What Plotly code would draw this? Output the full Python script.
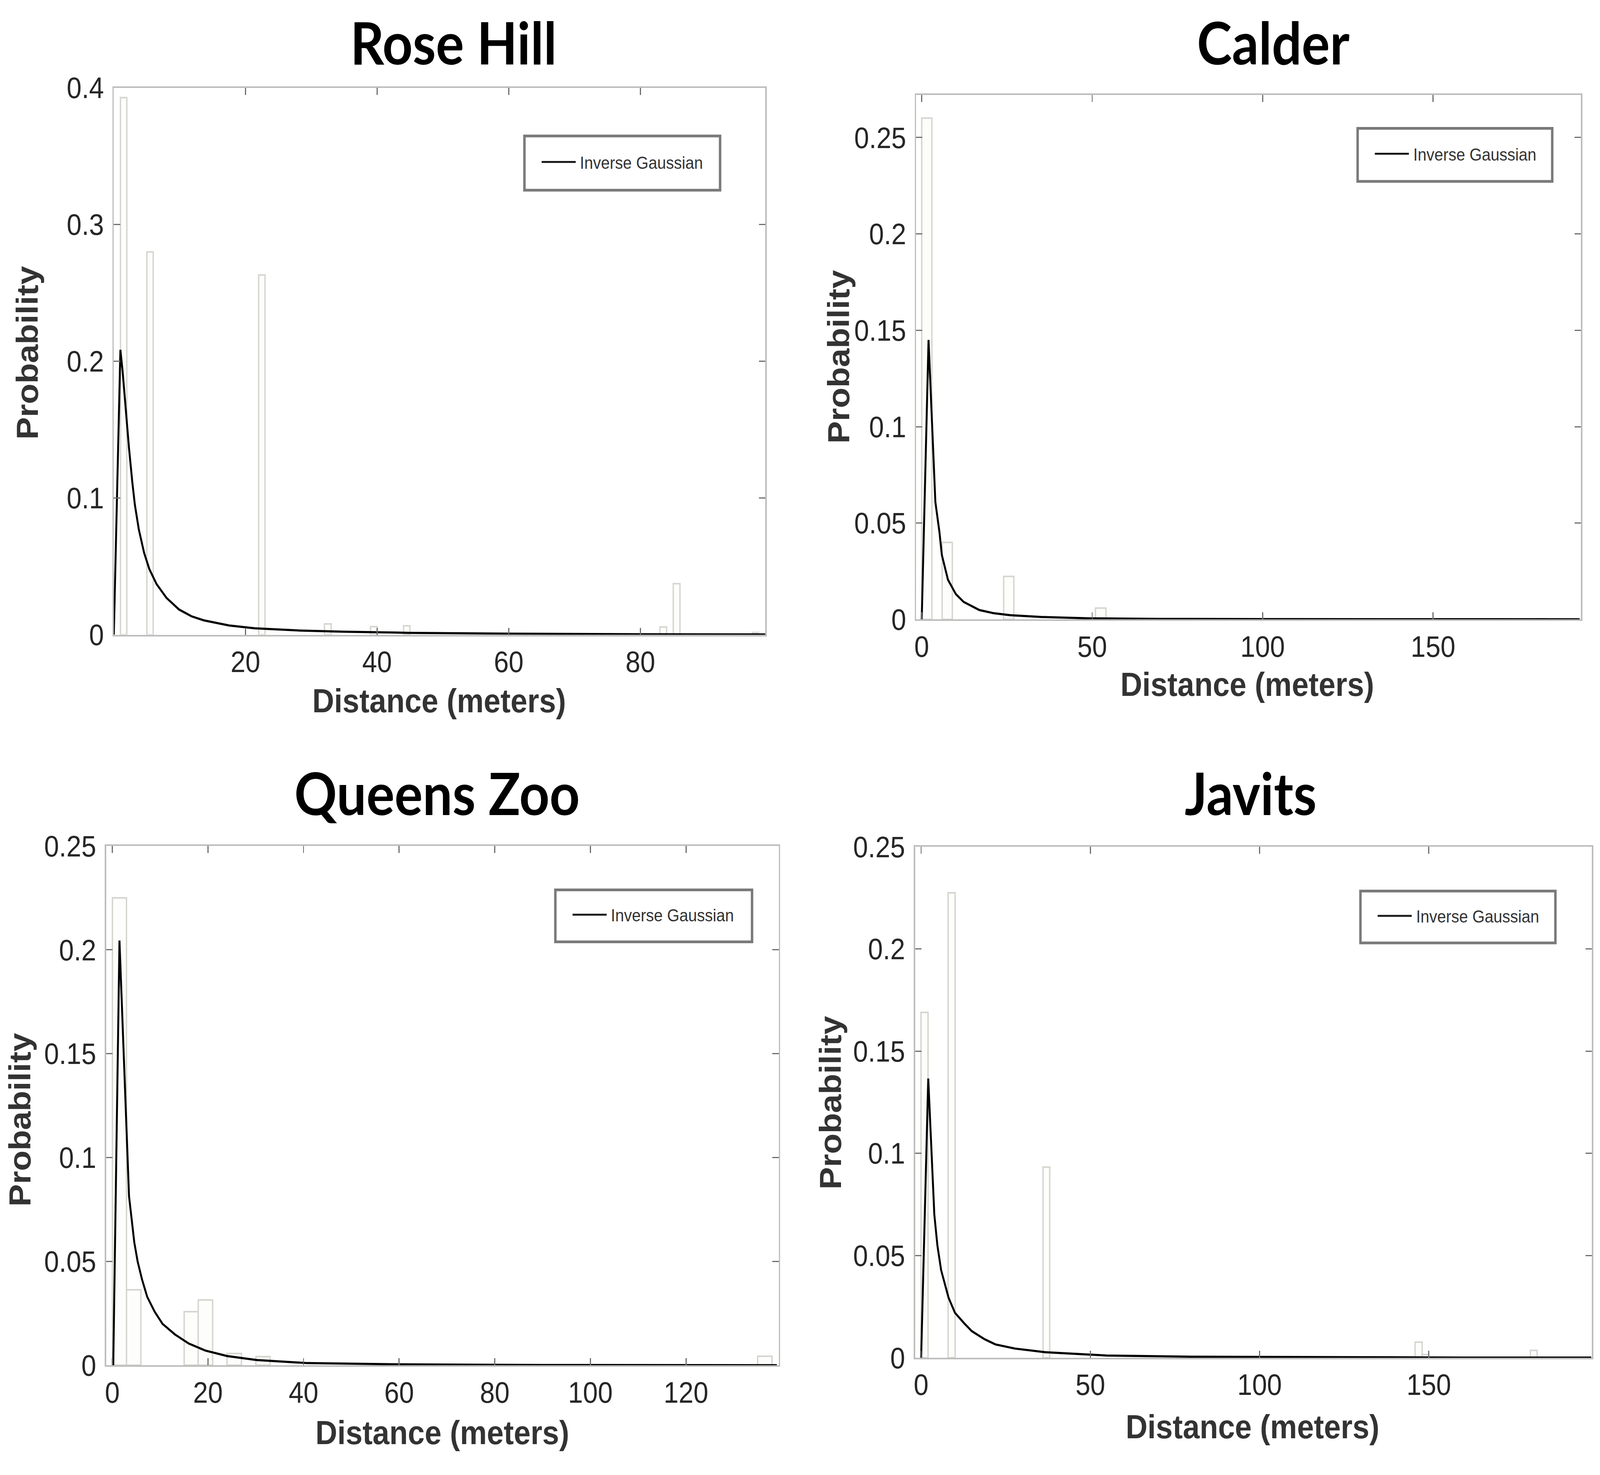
import plotly.graph_objs as go
from plotly.subplots import make_subplots

W, H = 4550, 3775

# ---- data ----
rose_bin_left = [1, 5, 22, 32, 39, 44, 83, 85, 97]
rose_bin_prob = [0.393, 0.280, 0.263, 0.0079, 0.0058, 0.0064, 0.0056, 0.0374, 0.0017]
rose_bin_width = 1
rose_fit_x = [0, 1.0, 1.33, 1.8, 2.3, 2.8, 3.2, 3.8, 4.6, 5.4, 6.5, 8, 9.9, 11.8, 13.7,
              17.5, 21.4, 28.2, 35, 45, 60, 80, 99]
rose_fit_y = [0, 0.2084, 0.193, 0.165, 0.137, 0.112, 0.095, 0.077, 0.060, 0.048, 0.037,
              0.027, 0.0185, 0.0135, 0.0105, 0.0068, 0.0047, 0.0031, 0.0022, 0.0014,
              0.0008, 0.0004, 0.0002]

calder_bin_left = [0, 6, 24, 51, 54, 180]
calder_bin_prob = [0.260, 0.040, 0.0223, 0.0059, 0.0007, 0.0005]
calder_bin_width = 3
calder_fit_x = [0, 2, 4, 5.2, 5.9, 7.7, 10, 12.3, 16.9, 21, 26, 35, 49, 70, 100, 150, 193]
calder_fit_y = [0, 0.145, 0.061, 0.0453, 0.0335, 0.0206, 0.0132, 0.0091, 0.0049, 0.0033,
                0.0022, 0.0013, 0.0006, 0.0003, 0.0002, 0.0001, 0.0001]

queens_bin_left = [0, 3, 15, 18, 24, 30, 135]
queens_bin_prob = [0.225, 0.0364, 0.0259, 0.0315, 0.0057, 0.0042, 0.0044]
queens_bin_width = 3
queens_fit_x = [0, 0.2, 1.5, 2.45, 3.5, 4.6, 5.3, 6.2, 7.3, 8.85, 10.5, 13.1, 16, 19.5,
                24, 30.2, 40.8, 60, 90, 139]
queens_fit_y = [0, 0, 0.2045, 0.148, 0.0814, 0.0592, 0.050, 0.0415, 0.033, 0.0259, 0.020,
                0.0149, 0.0105, 0.0071, 0.0045, 0.0026, 0.0011, 0.0005, 0.0002, 0.0001]

javits_bin_left = [0, 8, 36, 146, 148, 180]
javits_bin_prob = [0.169, 0.2274, 0.0933, 0.0077, 0.0015, 0.0037]
javits_bin_width = 2
javits_fit_x = [0, 2.1, 3.9, 4.8, 5.9, 8.1, 10, 12.7, 15, 18.7, 22, 27.7, 36.7, 54.8, 80,
                120, 160, 198]
javits_fit_y = [0, 0.1366, 0.070, 0.055, 0.0429, 0.0294, 0.022, 0.0169, 0.013, 0.0091,
                0.0065, 0.0045, 0.0027, 0.0011, 0.0005, 0.0002, 0.0001, 0.0001]

site_names = ["Rose Hill", "Calder", "Queens Zoo", "Javits"]
x_ticks = [[20, 40, 60, 80], [0, 50, 100, 150], [0, 20, 40, 60, 80, 100, 120], [0, 50, 100, 150]]
y_ticks = [[0, 0.1, 0.2, 0.3, 0.4],
           [0, 0.05, 0.1, 0.15, 0.2, 0.25],
           [0, 0.05, 0.1, 0.15, 0.2, 0.25],
           [0, 0.05, 0.1, 0.15, 0.2, 0.25]]
x_ranges = [[0, 99], [-1.65, 193.4], [-1.3, 139.4], [-1.8, 198.2]]
y_ranges = [[0, 0.4], [0, 0.272], [0, 0.25], [0, 0.25]]

panels = [
    (rose_bin_left, rose_bin_prob, rose_bin_width, rose_fit_x, rose_fit_y),
    (calder_bin_left, calder_bin_prob, calder_bin_width, calder_fit_x, calder_fit_y),
    (queens_bin_left, queens_bin_prob, queens_bin_width, queens_fit_x, queens_fit_y),
    (javits_bin_left, javits_bin_prob, javits_bin_width, javits_fit_x, javits_fit_y),
]

# ---- layout (pixel boxes in the 4550x3775 page) ----
plot_px = [(319, 2174, 187, 1619), (2603, 4496, 206, 1579),
           (297, 2212, 2172, 3532), (2600, 4527, 2174, 3512)]
title_px = [(1286, 67), (3620, 67), (1239, 2032), (3555, 2032)]
xlab_px = [(1245, 1791), (3546, 1748), (1254, 3707), (3561, 3692)]
ylab_px = [(73, 880), (2383, 891), (52, 2888), (2359, 2844)]
legend_px = [(1488, 2045, 313, 455), (3860, 4414, 293, 432),
             (1576, 2136, 2287, 2423), (3868, 4423, 2290, 2426)]


def px(x):
    return x / W


def py(y):
    return 1 - y / H


fig = make_subplots(rows=2, cols=2)

frame = "#bdbdbd"
tickc = "#6e6e6e"
txt = "#262626"

for i, (left, prob, bw, fx, fy) in enumerate(panels):
    r, c = i // 2 + 1, i % 2 + 1
    centers = [l + bw / 2 for l in left]
    fig.add_trace(go.Bar(x=centers, y=prob, width=bw,
                         marker=dict(color="#fdfdfb", line=dict(color="#d6d6d0", width=4)),
                         showlegend=False, hoverinfo="x+y"), row=r, col=c)
    fig.add_trace(go.Scatter(x=fx, y=fy, mode="lines", name="Inverse Gaussian",
                             line=dict(color="black", width=5.5), showlegend=False),
                  row=r, col=c)

    x0, x1, y0, y1 = plot_px[i]
    ax = dict(showline=True, mirror="ticks", linecolor=frame, linewidth=4,
              ticks="inside", ticklen=18, tickwidth=3, tickcolor=tickc,
              showgrid=False, zeroline=False,
              tickfont=dict(family="Liberation Sans, Arial", size=76, color=txt))
    fig.update_xaxes(ax, domain=[px(x0), px(x1)], range=x_ranges[i],
                     tickvals=x_ticks[i], ticktext=[str(v) for v in x_ticks[i]],
                     ticklabelstandoff=0, row=r, col=c)
    fig.update_yaxes(ax, domain=[py(y1), py(y0)], range=y_ranges[i],
                     tickvals=y_ticks[i], ticktext=[f"{v:g}" for v in y_ticks[i]],
                     ticklabelstandoff=9, row=r, col=c)

    tx, ty = title_px[i]
    fig.add_annotation(text=site_names[i], x=px(tx), y=py(ty), xref="paper", yref="paper",
                       showarrow=False, xanchor="center", yanchor="middle",
                       font=dict(family="Lato", size=150, color="black", weight="bold"))
    lx, ly = xlab_px[i]
    fig.add_annotation(text="Distance (meters)", x=px(lx), y=py(ly), xref="paper", yref="paper",
                       showarrow=False, xanchor="center", yanchor="middle",
                       font=dict(family="Liberation Sans, Arial", size=86, color="#333333",
                                 weight="bold"))
    vx, vy = ylab_px[i]
    fig.add_annotation(text="Probability", x=px(vx), y=py(vy), xref="paper", yref="paper",
                       showarrow=False, xanchor="center", yanchor="middle", textangle=-90,
                       font=dict(family="Liberation Sans, Arial", size=86, color="#333333",
                                 weight="bold"))

    # legend box drawn by hand so it matches the original proportions
    bx0, bx1, by0, by1 = legend_px[i]
    fig.add_shape(type="rect", xref="paper", yref="paper",
                  x0=px(bx0), x1=px(bx1), y0=py(by1), y1=py(by0),
                  line=dict(color="#7a7a7a", width=7), fillcolor="white")
    ymid = (by0 + by1) / 2 - 3
    fig.add_shape(type="line", xref="paper", yref="paper",
                  x0=px(bx0 + 49), x1=px(bx0 + 146), y0=py(ymid), y1=py(ymid),
                  line=dict(color="#1a1a1a", width=5))
    fig.add_annotation(text="Inverse Gaussian", x=px(bx0 + 156), y=py(ymid + 2),
                       xref="paper", yref="paper", showarrow=False,
                       xanchor="left", yanchor="middle",
                       font=dict(family="Liberation Sans, Arial", size=45, color="#333333"))

fig.update_layout(width=W, height=H, margin=dict(l=0, r=0, t=0, b=0),
                  paper_bgcolor="white", plot_bgcolor="white",
                  bargap=0, showlegend=False)

# the window comes out narrower than the figure (4096 wide); squeeze it horizontally to fit
fit_js = """
(function(){
  var gd = document.getElementById('{plot_id}');
  document.documentElement.style.margin = '0';
  document.body.style.margin = '0';
  document.body.style.overflow = 'hidden';
  var cw = document.documentElement.clientWidth || window.innerWidth;
  var sx = cw / 4550;
  if (sx < 1) { gd.style.transformOrigin = '0 0'; gd.style.transform = 'scale(' + sx + ',1)'; }
})();
"""

fig.write_html("out.html", post_script=fit_js, config={"displayModeBar": False})
